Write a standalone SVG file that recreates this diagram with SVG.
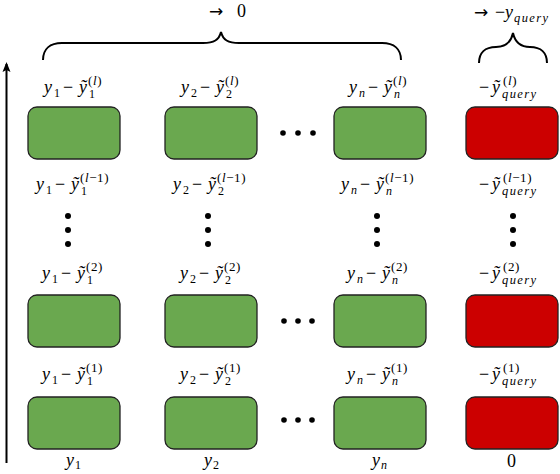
<svg xmlns="http://www.w3.org/2000/svg" width="560" height="474" viewBox="0 0 560 474">
<style>
.g{fill:#6aa84f;stroke:#222;stroke-width:1.3}
.rd{fill:#cc0000;stroke:#222;stroke-width:1.3}
.m{font-family:'Liberation Serif','DejaVu Serif','Times New Roman',serif;font-size:18px;fill:#000}
.i{font-style:italic}
.s{font-size:12px}
.p{font-size:13px;letter-spacing:0.6px}
.q{font-size:12.5px;font-style:italic;letter-spacing:1.4px}
.ar{font-family:'DejaVu Sans',sans-serif;font-size:17px}
.dot{fill:#000}
.br{fill:none;stroke:#000;stroke-width:2}
.ax{stroke:#000;stroke-width:2;fill:none}
</style>
<defs>
<marker id="ah" viewBox="0 0 10 10" refX="8" refY="5" markerWidth="10" markerHeight="10" markerUnits="userSpaceOnUse" orient="auto">
<path d="M10,5 L0,1 L2,5 L0,9 Z" fill="#000"/>
</marker>
<rect id="box" width="92" height="52" rx="9" ry="9"/>
</defs>
<rect width="560" height="474" fill="#fff"/>

<g id="connectors">
<line class="ax" x1="6.5" y1="463" x2="6.5" y2="64" marker-end="url(#ah)"/>
<path id="brace-big" class="br" d="M43,60 C43,49 50,43 62,43 L203,43 C214,43 219,40 221,32 C223,40 228,43 239,43 L382,43 C394,43 401,49 401,60"/>
<path id="brace-small" class="br" d="M479,63 C479,53 485,47 496,47 C506,47 511,42 513,33 C515,42 520,47 530,47 C541,47 547,53 547,63"/>
</g>

<g id="top-labels" font-family="Liberation Serif, DejaVu Serif, serif">
<text class="m"><tspan class="ar" x="209" y="17">→</tspan><tspan x="237" y="17">0</tspan></text>
<text class="m"><tspan class="ar" x="474" y="18">→</tspan><tspan x="495" y="18">−</tspan><tspan class="i" x="505" y="18">y</tspan><tspan class="q" x="514" y="22">query</tspan></text>
</g>

<!-- row 1 (top) -->
<g id="n-l-1"><use href="#box" class="g" x="28" y="107"/></g>
<g id="n-l-2"><use href="#box" class="g" x="165" y="107"/></g>
<g id="n-l-n"><use href="#box" class="g" x="334" y="107"/></g>
<g id="n-l-q"><use href="#box" class="rd" x="466" y="107"/></g>
<!-- row 2 -->
<g id="n-2-1"><use href="#box" class="g" x="28" y="295"/></g>
<g id="n-2-2"><use href="#box" class="g" x="165" y="295"/></g>
<g id="n-2-n"><use href="#box" class="g" x="334" y="295"/></g>
<g id="n-2-q"><use href="#box" class="rd" x="466" y="295"/></g>
<!-- row 3 (bottom) -->
<g id="n-1-1"><use href="#box" class="g" x="28" y="397"/></g>
<g id="n-1-2"><use href="#box" class="g" x="165" y="397"/></g>
<g id="n-1-n"><use href="#box" class="g" x="334" y="397"/></g>
<g id="n-1-q"><use href="#box" class="rd" x="466" y="397"/></g>

<g id="dots">
<circle class="dot" cx="283" cy="133" r="2.8"/><circle class="dot" cx="298" cy="133" r="2.8"/><circle class="dot" cx="313" cy="133" r="2.8"/>
<circle class="dot" cx="284" cy="321" r="2.8"/><circle class="dot" cx="298" cy="321" r="2.8"/><circle class="dot" cx="312" cy="321" r="2.8"/>
<circle class="dot" cx="284" cy="420" r="2.8"/><circle class="dot" cx="298" cy="420" r="2.8"/><circle class="dot" cx="312" cy="420" r="2.8"/>
<circle class="dot" cx="68" cy="216" r="3"/><circle class="dot" cx="68" cy="230" r="3"/><circle class="dot" cx="68" cy="244" r="3"/>
<circle class="dot" cx="208" cy="216" r="3"/><circle class="dot" cx="208" cy="230" r="3"/><circle class="dot" cx="208" cy="244" r="3"/>
<circle class="dot" cx="377" cy="216" r="3"/><circle class="dot" cx="377" cy="230" r="3"/><circle class="dot" cx="377" cy="244" r="3"/>
<circle class="dot" cx="513" cy="216" r="3"/><circle class="dot" cx="513" cy="230" r="3"/><circle class="dot" cx="513" cy="244" r="3"/>
</g>

<g id="labels" font-family="Liberation Serif, DejaVu Serif, serif">
<!-- (l) row, baseline 93 -->
<text class="m"><tspan class="i" x="44" y="93">y</tspan><tspan class="s" x="54" y="97">1</tspan><tspan x="63" y="93">−</tspan><tspan class="i" x="79" y="93">ỹ</tspan><tspan class="s" x="89" y="98">1</tspan><tspan class="p" x="88" y="85">(<tspan class="i">l</tspan>)</tspan></text>
<text class="m"><tspan class="i" x="181" y="93">y</tspan><tspan class="s" x="191" y="97">2</tspan><tspan x="200" y="93">−</tspan><tspan class="i" x="216" y="93">ỹ</tspan><tspan class="s" x="226" y="98">2</tspan><tspan class="p" x="225" y="85">(<tspan class="i">l</tspan>)</tspan></text>
<text class="m"><tspan class="i" x="349" y="93">y</tspan><tspan class="s i" x="359" y="97">n</tspan><tspan x="368" y="93">−</tspan><tspan class="i" x="384" y="93">ỹ</tspan><tspan class="s i" x="394" y="98">n</tspan><tspan class="p" x="393" y="85">(<tspan class="i">l</tspan>)</tspan></text>
<text class="m"><tspan x="479" y="93">−</tspan><tspan class="i" x="492" y="93">ỹ</tspan><tspan class="q" x="502" y="98">query</tspan><tspan class="p" x="503" y="85">(<tspan class="i">l</tspan>)</tspan></text>

<!-- (l-1) row, baseline 190 -->
<text class="m"><tspan class="i" x="36" y="190">y</tspan><tspan class="s" x="46" y="194">1</tspan><tspan x="55" y="190">−</tspan><tspan class="i" x="71" y="190">ỹ</tspan><tspan class="s" x="81" y="195">1</tspan><tspan class="p" x="80" y="182">(<tspan class="i">l</tspan>−1)</tspan></text>
<text class="m"><tspan class="i" x="173" y="190">y</tspan><tspan class="s" x="183" y="194">2</tspan><tspan x="192" y="190">−</tspan><tspan class="i" x="208" y="190">ỹ</tspan><tspan class="s" x="218" y="195">2</tspan><tspan class="p" x="217" y="182">(<tspan class="i">l</tspan>−1)</tspan></text>
<text class="m"><tspan class="i" x="341" y="190">y</tspan><tspan class="s i" x="351" y="194">n</tspan><tspan x="360" y="190">−</tspan><tspan class="i" x="376" y="190">ỹ</tspan><tspan class="s i" x="386" y="195">n</tspan><tspan class="p" x="385" y="182">(<tspan class="i">l</tspan>−1)</tspan></text>
<text class="m"><tspan x="479" y="190">−</tspan><tspan class="i" x="492" y="190">ỹ</tspan><tspan class="q" x="502" y="195">query</tspan><tspan class="p" x="503" y="182">(<tspan class="i">l</tspan>−1)</tspan></text>

<!-- (2) row, baseline 279 -->
<text class="m"><tspan class="i" x="42" y="279">y</tspan><tspan class="s" x="52" y="283">1</tspan><tspan x="61" y="279">−</tspan><tspan class="i" x="77" y="279">ỹ</tspan><tspan class="s" x="87" y="284">1</tspan><tspan class="p" x="86" y="271">(2)</tspan></text>
<text class="m"><tspan class="i" x="180" y="279">y</tspan><tspan class="s" x="190" y="283">2</tspan><tspan x="199" y="279">−</tspan><tspan class="i" x="215" y="279">ỹ</tspan><tspan class="s" x="225" y="284">2</tspan><tspan class="p" x="224" y="271">(2)</tspan></text>
<text class="m"><tspan class="i" x="347" y="279">y</tspan><tspan class="s i" x="357" y="283">n</tspan><tspan x="366" y="279">−</tspan><tspan class="i" x="382" y="279">ỹ</tspan><tspan class="s i" x="392" y="284">n</tspan><tspan class="p" x="391" y="271">(2)</tspan></text>
<text class="m"><tspan x="479" y="279">−</tspan><tspan class="i" x="492" y="279">ỹ</tspan><tspan class="q" x="502" y="284">query</tspan><tspan class="p" x="503" y="271">(2)</tspan></text>

<!-- (1) row, baseline 380 -->
<text class="m"><tspan class="i" x="42" y="380">y</tspan><tspan class="s" x="52" y="384">1</tspan><tspan x="61" y="380">−</tspan><tspan class="i" x="77" y="380">ỹ</tspan><tspan class="s" x="87" y="385">1</tspan><tspan class="p" x="86" y="372">(1)</tspan></text>
<text class="m"><tspan class="i" x="180" y="380">y</tspan><tspan class="s" x="190" y="384">2</tspan><tspan x="199" y="380">−</tspan><tspan class="i" x="215" y="380">ỹ</tspan><tspan class="s" x="225" y="385">2</tspan><tspan class="p" x="224" y="372">(1)</tspan></text>
<text class="m"><tspan class="i" x="347" y="380">y</tspan><tspan class="s i" x="357" y="384">n</tspan><tspan x="366" y="380">−</tspan><tspan class="i" x="382" y="380">ỹ</tspan><tspan class="s i" x="392" y="385">n</tspan><tspan class="p" x="391" y="372">(1)</tspan></text>
<text class="m"><tspan x="479" y="380">−</tspan><tspan class="i" x="492" y="380">ỹ</tspan><tspan class="q" x="502" y="385">query</tspan><tspan class="p" x="503" y="372">(1)</tspan></text>

<!-- inputs -->
<text class="m"><tspan class="i" x="66" y="466">y</tspan><tspan class="s" x="75" y="469">1</tspan></text>
<text class="m"><tspan class="i" x="204" y="466">y</tspan><tspan class="s" x="213" y="469">2</tspan></text>
<text class="m"><tspan class="i" x="372" y="466">y</tspan><tspan class="s i" x="381" y="469">n</tspan></text>
<text class="m" x="507" y="467">0</text>
</g>
</svg>
